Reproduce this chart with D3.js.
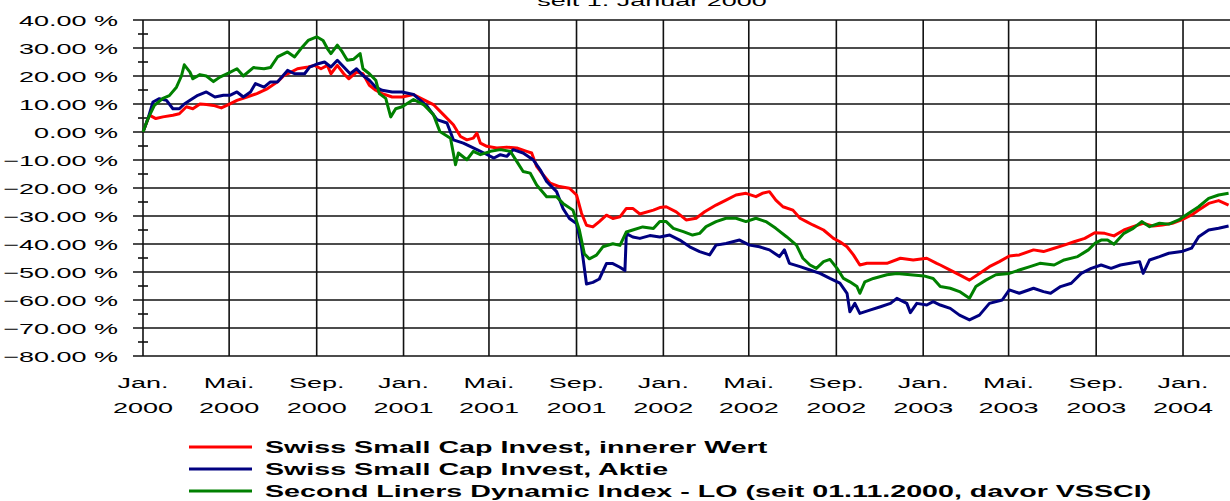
<!DOCTYPE html>
<html><head><meta charset="utf-8">
<script src="https://cdn.jsdelivr.net/npm/d3@7"></script>
<style>body{margin:0;background:#fff;overflow:hidden} svg{display:block}</style>
</head><body><svg id="c" width="1230" height="501"></svg>
<script>
const titleText = "seit 1. Januar 2000";
const yTicks = [40,30,20,10,0,-10,-20,-30,-40,-50,-60,-70,-80];
const yMinorTicks = [35,25,15,5,-5,-15,-25,-35,-45,-55,-65,-75];
const xTickDates = ["2000-01-01","2000-05-01","2000-09-01","2001-01-01","2001-05-01","2001-09-01","2002-01-01","2002-05-01","2002-09-01","2003-01-01","2003-05-01","2003-09-01","2004-01-01"];
const xTickMonths = ["Jan.","Mai.","Sep.","Jan.","Mai.","Sep.","Jan.","Mai.","Sep.","Jan.","Mai.","Sep.","Jan."];
const xTickYears = ["2000","2000","2000","2001","2001","2001","2002","2002","2002","2003","2003","2003","2004"];
const seriesNames = ["Swiss Small Cap Invest, innerer Wert","Swiss Small Cap Invest, Aktie","Second Liners Dynamic Index - LO (seit 01.11.2000, davor VSSCI)"];
const seriesColors = ["#ff0000","#000080","#008000"];

const redSeries = [
["2000-01-01",0],["2000-01-10",6],["2000-01-19",4.8],["2000-01-29",5.4],["2000-02-12",6],["2000-02-21",6.5],["2000-03-02",9],["2000-03-11",8.3],["2000-03-21",10],["2000-03-30",9.8],["2000-04-09",9.5],["2000-04-20",8.6],["2000-04-30",9.8],["2000-05-12",11.3],["2000-05-26",12.5],["2000-06-09",13.7],["2000-06-24",15.5],["2000-07-08",17.9],["2000-07-17",20.2],["2000-07-27",21.4],["2000-08-05",22.6],["2000-08-20",23.2],["2000-08-29",23.8],["2000-09-07",22.6],["2000-09-16",23.8],["2000-09-21",20.8],["2000-09-30",23.8],["2000-10-09",20.8],["2000-10-16",19],["2000-10-27",21.4],["2000-11-05",20.8],["2000-11-14",16.7],["2000-11-23",14.9],["2000-12-02",13.7],["2000-12-16",12.5],["2000-12-30",12.5],
["2001-01-15",13.4],["2001-01-24",12.2],["2001-02-12",9.8],["2001-02-26",6.2],["2001-03-12",2.6],["2001-03-22",-1.6],["2001-03-31",-2.8],["2001-04-09",-2.2],["2001-04-14",-0.4],["2001-04-19",-4],["2001-04-28",-5.1],["2001-05-12",-5.7],["2001-05-26",-5.4],["2001-06-09",-5.7],["2001-06-23",-6.9],["2001-06-30",-7.5],["2001-07-07",-12.3],["2001-07-16",-15.3],["2001-07-26",-18.3],["2001-08-08",-19.5],["2001-08-22",-20.1],["2001-09-01",-22.5],["2001-09-08",-29],["2001-09-15",-33.3],["2001-09-24",-33.9],["2001-10-03",-32],["2001-10-13",-29.7],["2001-10-22",-30.9],["2001-11-01",-30.3],["2001-11-10",-27.3],["2001-11-19",-27.3],["2001-11-29",-29.3],["2001-12-18",-27.9],["2001-12-27",-27],
["2002-01-05",-26.7],["2002-01-19",-28.5],["2002-02-02",-31.4],["2002-02-16",-30.8],["2002-02-28",-28.5],["2002-03-16",-26.1],["2002-03-30",-24.3],["2002-04-13",-22.5],["2002-04-27",-21.9],["2002-05-11",-23.1],["2002-05-20",-21.9],["2002-05-30",-21.3],["2002-06-08",-24.3],["2002-06-18",-26.7],["2002-07-02",-27.9],["2002-07-12",-30.8],["2002-07-21",-32],["2002-07-30",-33.2],["2002-08-14",-35],["2002-08-28",-38],["2002-09-06",-39.2],["2002-09-16",-41],["2002-09-25",-43.9],["2002-10-04",-47.5],["2002-10-14",-46.9],["2002-10-28",-46.9],["2002-11-11",-46.9],["2002-11-30",-45.1],["2002-12-18",-45.7],["2003-01-06",-45.1],["2003-01-20",-46.9],
["2003-01-25",-47.5],["2003-02-08",-49.3],["2003-02-21",-51],["2003-03-07",-52.9],["2003-03-21",-50.5],["2003-04-04",-48.1],["2003-04-18",-46.3],["2003-05-02",-44.3],["2003-05-16",-43.9],["2003-06-05",-42.1],["2003-06-19",-42.7],["2003-07-04",-41.5],["2003-07-18",-40.4],["2003-08-01",-39.2],["2003-08-16",-38],["2003-08-30",-36],["2003-09-13",-36.2],["2003-09-26",-37.1],["2003-10-10",-35],["2003-10-23",-33.8],["2003-11-06",-32.6],["2003-11-20",-33.6],["2003-12-03",-33.2],["2003-12-17",-32.6],["2003-12-30",-31.4],["2004-01-13",-29.6],["2004-01-23",-27.9],["2004-02-06",-25.5],["2004-02-20",-24.5],["2004-03-05",-26.1]
];

const blueSeries = [
["2000-01-01",0],["2000-01-08",4.8],["2000-01-15",10.7],["2000-01-24",11.9],["2000-02-03",11.3],["2000-02-12",8.3],["2000-02-21",8.3],["2000-02-28",10],["2000-03-07",11.3],["2000-03-18",13.1],["2000-03-30",14.3],["2000-04-11",12.5],["2000-04-23",13.1],["2000-05-02",13.1],["2000-05-12",14.3],["2000-05-21",12.5],["2000-05-31",14.3],["2000-06-07",17.3],["2000-06-19",16],["2000-06-28",17.9],["2000-07-08",17.9],["2000-07-22",22],["2000-08-01",20.8],["2000-08-15",20.8],["2000-08-22",23.2],["2000-09-03",24.4],["2000-09-12",25],["2000-09-21",23.2],["2000-09-30",25.6],["2000-10-09",23.2],["2000-10-18",20.8],["2000-10-27",22.6],["2000-11-05",20.2],["2000-11-14",18.5],["2000-11-23",16],["2000-12-02",14.9],["2000-12-16",14.3],["2000-12-30",14.3],
["2001-01-15",13.4],["2001-02-03",9.2],["2001-02-17",4.4],["2001-03-03",3.2],["2001-03-12",-2.8],["2001-03-26",-4],["2001-04-09",-5.7],["2001-04-24",-7.5],["2001-05-08",-9.3],["2001-05-17",-8.1],["2001-05-26",-8.7],["2001-06-04",-6.3],["2001-06-18",-7.5],["2001-07-02",-9.9],["2001-07-12",-13.5],["2001-07-21",-17.7],["2001-08-04",-21.3],["2001-08-13",-27.3],["2001-08-22",-30.9],["2001-09-01",-32.7],["2001-09-08",-41],["2001-09-15",-54.3],["2001-09-24",-53.7],["2001-10-03",-52.5],["2001-10-13",-47],["2001-10-22",-47],["2001-11-01",-48.3],["2001-11-08",-49.5],["2001-11-10",-36.3],["2001-11-19",-37.5],["2001-11-29",-38],["2001-12-13",-37],["2001-12-27",-37.5],
["2002-01-10",-36.8],["2002-01-24",-38.6],["2002-02-07",-41],["2002-02-21",-42.7],["2002-03-07",-43.9],["2002-03-16",-40.4],["2002-03-30",-39.8],["2002-04-18",-38.6],["2002-05-02",-40.4],["2002-05-16",-41],["2002-05-30",-42.1],["2002-06-13",-44.5],["2002-06-20",-42.1],["2002-06-27",-46.9],["2002-07-12",-48.1],["2002-07-26",-49.3],["2002-08-09",-50.5],["2002-08-23",-52.3],["2002-09-06",-54],["2002-09-16",-57.6],["2002-09-20",-64.2],["2002-09-27",-61.2],["2002-10-04",-64.8],["2002-10-18",-63.6],["2002-11-02",-62.4],["2002-11-16",-61.2],["2002-11-25",-59.4],["2002-12-09",-61.2],["2002-12-14",-64.5],["2002-12-23",-61.2],["2003-01-06",-61.8],["2003-01-15",-60.6],
["2003-01-25",-61.8],["2003-02-08",-63],["2003-02-21",-65.4],["2003-03-07",-67.1],["2003-03-21",-65.4],["2003-04-04",-61.2],["2003-04-22",-60],["2003-05-02",-56.4],["2003-05-16",-57.6],["2003-06-05",-55.8],["2003-06-19",-57],["2003-06-29",-57.6],["2003-07-13",-55.2],["2003-07-28",-54],["2003-08-11",-50.5],["2003-08-25",-48.7],["2003-09-08",-47.5],["2003-09-22",-48.7],["2003-10-05",-47.5],["2003-10-19",-46.9],["2003-11-01",-46.3],["2003-11-06",-50.5],["2003-11-15",-45.7],["2003-11-29",-44.5],["2003-12-12",-43.3],["2003-12-30",-42.7],["2004-01-13",-41.5],["2004-01-23",-37.4],["2004-02-06",-35],["2004-02-20",-34.4],["2004-03-05",-33.6]
];

const greenSeries = [
["2000-01-01",0],["2000-01-08",4.8],["2000-01-17",9.5],["2000-01-29",12],["2000-02-07",13],["2000-02-17",16],["2000-02-24",20],["2000-02-28",24],["2000-03-07",21.4],["2000-03-11",19],["2000-03-21",20.5],["2000-03-30",20],["2000-04-09",18],["2000-04-18",19.6],["2000-04-30",21],["2000-05-12",22.6],["2000-05-21",20],["2000-06-04",23],["2000-06-19",22.6],["2000-06-28",23],["2000-07-08",26.8],["2000-07-22",28.6],["2000-08-01",26.8],["2000-08-10",29.8],["2000-08-20",32.7],["2000-09-01",34],["2000-09-10",32.7],["2000-09-16",29.8],["2000-09-21",28],["2000-09-30",31],["2000-10-07",28.6],["2000-10-14",25.6],["2000-10-23",26],["2000-11-01",28],["2000-11-05",22.6],["2000-11-14",20.8],["2000-11-23",18.5],["2000-11-28",13.7],["2000-12-07",12],["2000-12-14",5.4],["2000-12-21",8.3],["2000-12-30",9],
["2001-01-15",11.6],["2001-01-29",9.8],["2001-02-12",6.2],["2001-02-21",0.2],["2001-03-08",-2.2],["2001-03-15",-11.7],["2001-03-19",-7.5],["2001-03-31",-9.9],["2001-04-09",-6.9],["2001-04-19",-8.1],["2001-05-03",-6.9],["2001-05-17",-6.3],["2001-05-31",-6.9],["2001-06-09",-10.5],["2001-06-18",-14.1],["2001-06-28",-14.7],["2001-07-07",-18.9],["2001-07-21",-23.1],["2001-08-04",-23.1],["2001-08-13",-25.5],["2001-08-27",-27.9],["2001-09-05",-35],["2001-09-12",-43.5],["2001-09-19",-45.3],["2001-09-29",-44],["2001-10-08",-41],["2001-10-22",-39.9],["2001-11-01",-40.5],["2001-11-10",-35.7],["2001-11-19",-35],["2001-12-03",-33.9],["2001-12-18",-34.5],["2001-12-27",-32],
["2002-01-05",-32],["2002-01-15",-34.4],["2002-01-29",-35.6],["2002-02-11",-36.8],["2002-02-21",-36.2],["2002-03-02",-33.8],["2002-03-16",-32],["2002-03-30",-30.8],["2002-04-13",-30.8],["2002-04-27",-32],["2002-05-11",-30.8],["2002-05-25",-32],["2002-06-08",-34.4],["2002-06-23",-37.4],["2002-07-07",-40.4],["2002-07-16",-45.1],["2002-07-26",-47.5],["2002-08-04",-48.7],["2002-08-14",-46.3],["2002-08-23",-45.5],["2002-09-02",-48.7],["2002-09-11",-52.3],["2002-09-20",-53.5],["2002-09-30",-55.2],["2002-10-04",-57.6],["2002-10-11",-53.5],["2002-10-23",-52.3],["2002-11-11",-51],["2002-11-25",-50.5],["2002-12-14",-51],["2003-01-02",-51.4],["2003-01-15",-52.3],
["2003-01-25",-55.2],["2003-02-08",-55.8],["2003-02-21",-57],["2003-03-07",-59.4],["2003-03-16",-55.2],["2003-03-30",-52.9],["2003-04-13",-51],["2003-05-02",-50.5],["2003-05-16",-49.3],["2003-05-31",-48.1],["2003-06-14",-46.9],["2003-07-04",-47.5],["2003-07-18",-45.7],["2003-08-06",-44.5],["2003-08-21",-42.1],["2003-08-30",-39.8],["2003-09-08",-38.6],["2003-09-17",-38.6],["2003-09-26",-40.1],["2003-10-10",-36.2],["2003-10-23",-34.4],["2003-11-04",-32],["2003-11-15",-33.8],["2003-11-29",-32.6],["2003-12-12",-32.9],["2003-12-26",-31.4],["2004-01-09",-29],["2004-01-23",-26.7],["2004-02-06",-23.7],["2004-02-20",-22.5],["2004-03-05",-21.9]
];

const parse = d3.utcParse("%Y-%m-%d");
const FONT = "'Liberation Sans', Arial, sans-serif";
const SX = 1.8;
const svg = d3.select("#c");
const W = 1230;
const x = d3.scaleUtc().domain([parse("2000-01-01"), parse("2004-03-07")]).range([143, W]);
const y = d3.scaleLinear().domain([-80, 40]).range([356, 20]);

// title (cut off at the top, as in the reference)
svg.append("text").attr("transform", `translate(652,6) scale(${SX},1)`)
  .attr("text-anchor","middle").attr("font-family",FONT).attr("font-size",15).text(titleText);

const grid = svg.append("g").attr("stroke","#111").attr("stroke-width",1.6);
grid.selectAll("line.h").data(yTicks).join("line").attr("class","h")
  .attr("x1",133).attr("x2",W).attr("y1",d=>y(d)).attr("y2",d=>y(d));
grid.selectAll("line.v").data(xTickDates).join("line").attr("class","v")
  .attr("x1",d=>x(parse(d))).attr("x2",d=>x(parse(d))).attr("y1",y(40)).attr("y2",y(-80));
grid.selectAll("line.m").data(yMinorTicks).join("line").attr("class","m")
  .attr("x1",138).attr("x2",148).attr("y1",d=>y(d)).attr("y2",d=>y(d));

// y labels
svg.append("g").selectAll("text").data(yTicks).join("text")
  .attr("transform", d=>`translate(118,${y(d)+5.5}) scale(${SX},1)`)
  .attr("text-anchor","end").attr("font-family",FONT).attr("font-size",15).attr("fill","#000")
  .text(d=>d3.format(".2f")(d)+" %");

// x labels
const xl = svg.append("g");
xl.selectAll("text.mo").data(xTickDates).join("text").attr("class","mo")
  .attr("transform",(d)=>`translate(${x(parse(d))},388) scale(${SX},1)`)
  .attr("text-anchor","middle").attr("font-family",FONT).attr("font-size",15)
  .text((d,i)=>xTickMonths[i]);
xl.selectAll("text.yr").data(xTickDates).join("text").attr("class","yr")
  .attr("transform",(d)=>`translate(${x(parse(d))},413) scale(${SX},1)`)
  .attr("text-anchor","middle").attr("font-family",FONT).attr("font-size",15)
  .text((d,i)=>xTickYears[i]);

// series
const line = d3.line().x(d=>x(parse(d[0]))).y(d=>y(d[1]));
[redSeries, blueSeries, greenSeries].forEach((s,i)=>{
  svg.append("path").attr("d", line(s)).attr("fill","none")
    .attr("stroke", seriesColors[i]).attr("stroke-width",3).attr("stroke-linejoin","round");
});

// legend
const lg = svg.append("g");
const legY = [447, 469, 491];
seriesNames.forEach((n,i)=>{
  lg.append("line").attr("x1",189).attr("x2",252).attr("y1",legY[i]).attr("y2",legY[i])
    .attr("stroke",seriesColors[i]).attr("stroke-width",3);
  lg.append("text").attr("transform",`translate(265,${legY[i]+5.5}) scale(1.79,1)`)
    .attr("font-family",FONT).attr("font-size",16).attr("font-weight","bold").text(n);
});
</script></body></html>
